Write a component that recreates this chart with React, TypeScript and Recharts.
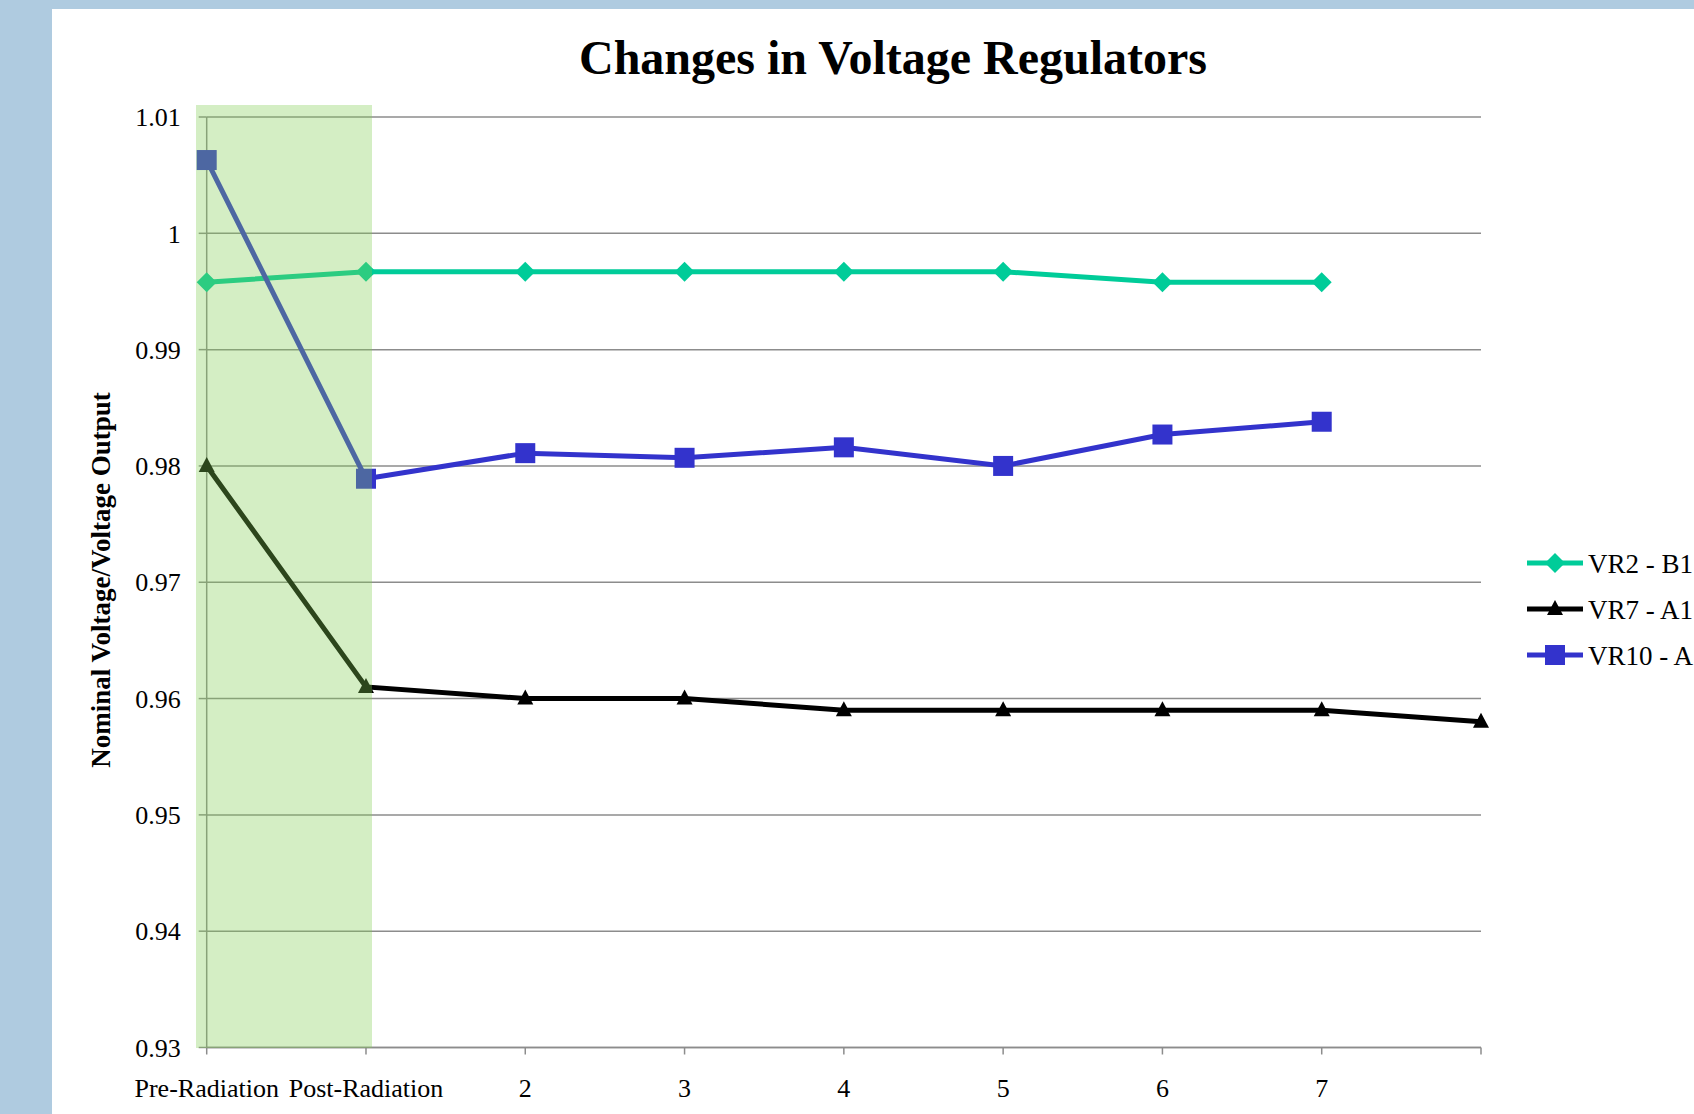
import { LineChart, Line, XAxis, YAxis, CartesianGrid, ReferenceArea } from 'recharts'

const categories = ['Pre-Radiation', 'Post-Radiation', '2', '3', '4', '5', '6', '7', '']
const vr2B1 = [0.9958, 0.9967, 0.9967, 0.9967, 0.9967, 0.9967, 0.9958, 0.9958, null]
const vr7A1 = [0.98, 0.961, 0.96, 0.96, 0.959, 0.959, 0.959, 0.959, 0.958]
const vr10A1 = [1.0063, 0.9789, 0.9811, 0.9807, 0.9816, 0.98, 0.9827, 0.9838, null]
const yTicks = [0.93, 0.94, 0.95, 0.96, 0.97, 0.98, 0.99, 1, 1.01]

const seriesNames = ['VR2 - B1', 'VR7 - A1', 'VR10 - A1']
const seriesColors = ['#00CC99', '#000000', '#3333CC']

const data = categories.map((cat, i) => ({
  cat,
  vr2: vr2B1[i],
  vr7: vr7A1[i],
  vr10: vr10A1[i],
}))

const FONT = '"Liberation Serif", "Times New Roman", serif'
const GRID = '#8c8c8c'

function marker(kind: number, cx: number, cy: number, color: string) {
  if (kind === 0) {
    return <path d={`M${cx},${cy - 10}L${cx + 10},${cy}L${cx},${cy + 10}L${cx - 10},${cy}Z`} fill={color} />
  }
  if (kind === 1) {
    return <path d={`M${cx},${cy - 9}L${cx + 8},${cy + 6}L${cx - 8},${cy + 6}Z`} fill={color} />
  }
  return <rect x={cx - 10} y={cy - 10} width={20} height={20} fill={color} />
}

const makeDot = (kind: number) => (props: any) => {
  const { cx, cy, index, value } = props
  if (cx == null || cy == null || value == null) return <g key={index} />
  return <g key={index}>{marker(kind, cx, cy, seriesColors[kind])}</g>
}

// green "radiation" band drawn on top of the lines, slightly wider than the two points
const highlight = (p: any) => (
  <rect
    x={p.x - 10.7}
    y={p.y - 12}
    width={p.width + 16.7}
    height={p.height + 12.5}
    fill="#80CE53"
    fillOpacity={0.34}
  />
)

export default function App() {
  return (
    <div
      style={{
        position: 'absolute',
        left: 0,
        top: 0,
        width: 1694,
        height: 1114,
        overflow: 'hidden',
        background: '#AFCBE0',
        fontFamily: FONT,
      }}
    >
      <div style={{ position: 'absolute', left: 52, top: 9, width: 1642, height: 1105, background: '#fff' }}>
        <LineChart
          width={1642}
          height={1105}
          data={data}
          margin={{ top: 108, right: 213, bottom: 6.5, left: 0 }}
        >
          <CartesianGrid vertical={false} stroke={GRID} strokeWidth={1.5} />
          <XAxis
            dataKey="cat"
            interval={0}
            height={60}
            tickSize={7}
            tickMargin={24}
            axisLine={{ stroke: GRID, strokeWidth: 1.5 }}
            tickLine={{ stroke: GRID, strokeWidth: 1.5 }}
            tick={{ fill: '#000', fontSize: 26, fontFamily: FONT }}
          />
          <YAxis
            width={154.7}
            domain={[0.93, 1.01]}
            ticks={yTicks}
            tickFormatter={(v: number) => String(v)}
            tickSize={8}
            tickMargin={18}
            axisLine={{ stroke: GRID, strokeWidth: 1.5 }}
            tickLine={{ stroke: GRID, strokeWidth: 1.5 }}
            tick={{ fill: '#000', fontSize: 26, fontFamily: FONT }}
          />
          <Line
            type="linear"
            dataKey="vr2"
            stroke={seriesColors[0]}
            strokeWidth={5}
            dot={makeDot(0)}
            activeDot={false}
            isAnimationActive={false}
          />
          <Line
            type="linear"
            dataKey="vr7"
            stroke={seriesColors[1]}
            strokeWidth={5}
            dot={makeDot(1)}
            activeDot={false}
            isAnimationActive={false}
          />
          <Line
            type="linear"
            dataKey="vr10"
            stroke={seriesColors[2]}
            strokeWidth={5}
            dot={makeDot(2)}
            activeDot={false}
            isAnimationActive={false}
          />
          <ReferenceArea
            x1="Pre-Radiation"
            x2="Post-Radiation"
            y1={0.93}
            y2={1.01}
            shape={highlight}
            zIndex={1000}
          />
        </LineChart>
      </div>
      <svg
        width={1694}
        height={1114}
        style={{ position: 'absolute', left: 0, top: 0, pointerEvents: 'none' }}
      >
        <text x={893} y={74} textAnchor="middle" fontFamily={FONT} fontWeight="bold" fontSize={48} fill="#000">
          Changes in Voltage Regulators
        </text>
        <text
          transform="translate(110,580) rotate(-90)"
          textAnchor="middle"
          fontFamily={FONT}
          fontWeight="bold"
          fontSize={27}
          fill="#000"
        >
          Nominal Voltage/Voltage Output
        </text>
        {seriesNames.map((name, i) => {
          const y = 563 + i * 46
          return (
            <g key={name}>
              <line x1={1527} x2={1583} y1={y} y2={y} stroke={seriesColors[i]} strokeWidth={5} />
              {marker(i, 1555, y, seriesColors[i])}
              <text x={1588} y={y + 10} fontFamily={FONT} fontSize={27} fill="#000">
                {name}
              </text>
            </g>
          )
        })}
      </svg>
    </div>
  )
}
